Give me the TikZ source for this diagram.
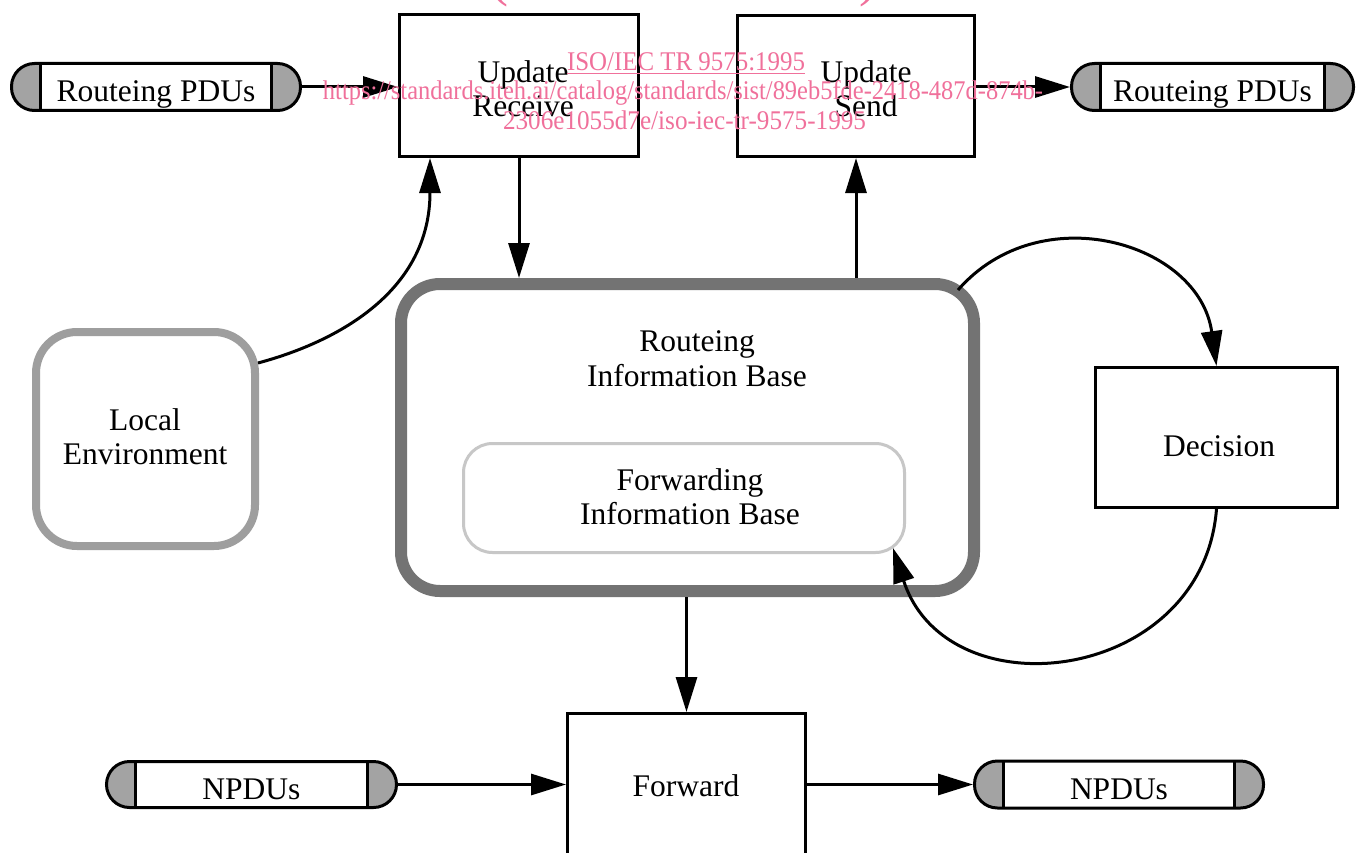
\documentclass[tikz,border=0pt]{standalone}
\usepackage{fontspec}
\setmainfont{Liberation Serif}
\usepackage{graphicx}
\usetikzlibrary{arrows.meta,calc}
\definecolor{wmpink}{RGB}{240,112,155}
\colorlet{ribgray}{black!55}
\colorlet{envgray}{black!38}
\colorlet{fibgray}{black!22}
\colorlet{capgray}{black!36}
\begin{document}
\begin{tikzpicture}[x=1pt,y=-1pt,
  every node/.style={font=\fontsize{31.5}{34.5}\selectfont},
  box/.style={draw, line width=3pt, inner sep=0pt, align=center},
  txt/.style={inner sep=0pt, align=center},
  pill/.style={draw, line width=3pt, rounded corners=23pt, inner sep=0pt,
    minimum height=47pt, text height=30pt, text depth=0pt,
    path picture={
      \fill[capgray, sharp corners] (path picture bounding box.north west) rectangle ([xshift=29pt]path picture bounding box.south west);
      \fill[capgray, sharp corners] (path picture bounding box.north east) rectangle ([xshift=-29pt]path picture bounding box.south east);
      \draw[line width=2.8pt, sharp corners] ([xshift=29pt]path picture bounding box.north west) -- ([xshift=29pt]path picture bounding box.south west);
      \draw[line width=2.8pt, sharp corners] ([xshift=-29pt]path picture bounding box.north east) -- ([xshift=-29pt]path picture bounding box.south east);
    }},
  arr/.style={line width=3pt, -{Triangle[length=35pt,width=21pt]}},
  wm/.style={text=wmpink, inner sep=0pt, anchor=base, font=\fontsize{27}{27}\selectfont}
]
\useasboundingbox (0,0) rectangle (1356,853);
\clip (0,0) rectangle (1356,853);
\fill[white] (0,0) rectangle (1356,853);

% pills
\node[pill, minimum width=289pt] (rpdul) at (156,87) {Routeing PDUs};
\node[pill, minimum width=282pt] (rpdur) at (1212.5,87) {Routeing PDUs};
\node[pill, minimum width=290pt, minimum height=46pt] (npdul) at (251.5,784.5) {NPDUs};
\node[pill, minimum width=289pt, minimum height=47pt] (npdur) at (1119,784.5) {NPDUs};

% boxes
\node[box, minimum width=239pt, minimum height=142pt] (urecv) at (519,85.5) {};
\node[txt] (urecvt) at (523,88.5) {Update\\Receive};
\node[box, minimum width=237pt, minimum height=141pt] (usend) at (856,86) {};
\node[txt] (usendt) at (866,88.5) {Update\\Send};
\node[box, minimum width=242pt, minimum height=140pt] (dec) at (1216.5,437.5) {};
\node[txt] (dect) at (1219,446) {Decision};
\node[box, minimum width=238pt, minimum height=148.5pt] (fwd) at (686.5,787.75) {};
\node[txt] (fwdt) at (686,786) {Forward};

% information bases
\node[draw=envgray, line width=8pt, rounded corners=41pt, minimum width=219pt,
      minimum height=214pt, inner sep=0pt] (locenv) at (145.5,439) {};
\node[txt] (locenvt) at (145,436.5) {Local\\Environment};
\node[draw=ribgray, line width=12pt, rounded corners=39pt, minimum width=573pt,
      minimum height=307pt, inner sep=0pt] (rib) at (687.5,437.5) {};
\node[txt] (ribt) at (697,358.5) {Routeing\\Information Base};
\node[draw=fibgray, line width=3pt, rounded corners=29pt, minimum width=441pt,
      minimum height=109pt, inner sep=0pt] (fib) at (684,498) {};
\node[txt] (fibt) at (690,496.5) {Forwarding\\Information Base};

% connectors
\draw[arr] (rpdul.east) -- (rpdul.east -| urecv.west);
\draw[arr] (rpdur.west -| usend.east) -- (rpdur.west);
\draw[arr] (urecv.south) -- (urecv.south |- rib.north);
\draw[arr] (usend.south |- rib.north) -- (usend.south);
\draw[arr] (fwd.north |- rib.south) -- (fwd.north);
\draw[arr] (npdul.east) -- (npdul.east -| fwd.west);
\draw[arr] (npdur.west -| fwd.east) -- (npdur.west);
\draw[arr] ($(locenv.east)+(-1,-76)$) .. controls +(82,-22) and +(0,132) .. ($(urecv.south west)+(32,0)$);
\draw[arr] ($(rib.north east)+(-22,12)$) .. controls +(-49:125) and +(-98:125) .. (dec.north);
\draw[arr] (dec.south) .. controls +(94.5:175) and +(72:175) .. ($(fib.south east)+(-13,-6)$);

% watermark
\node[wm] (wm0) at (683.5,-4.5) {\resizebox{387pt}{\height}{\fontsize{54}{54}\selectfont (standards.iteh.ai)}};
\node[wm] (wm1) at (686,71) {\resizebox{238pt}{\height}{\underline{ISO/IEC TR 9575:1995}}};
\node[wm] (wm2) at (683,100) {\resizebox{720pt}{\height}{https://standards.iteh.ai/catalog/standards/sist/89eb5fde-2418-487d-874b-}};
\node[wm] (wm3) at (684.5,130) {\resizebox{363pt}{\height}{2306e1055d7e/iso-iec-tr-9575-1995}};
\end{tikzpicture}
\end{document}
